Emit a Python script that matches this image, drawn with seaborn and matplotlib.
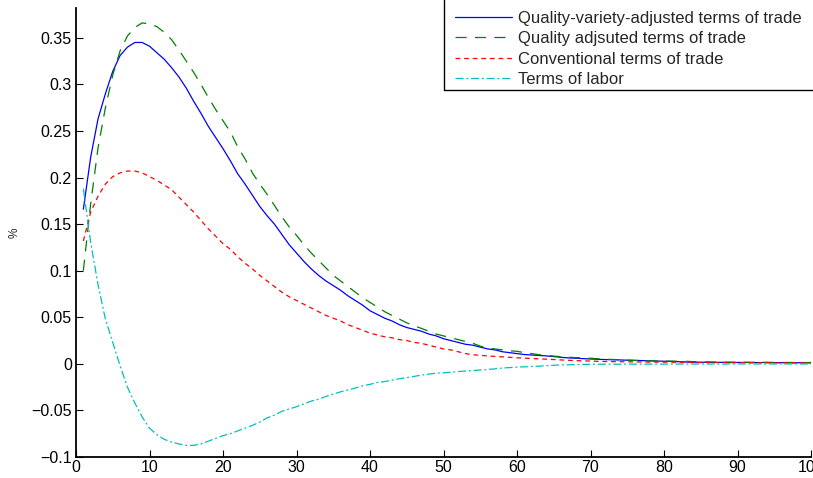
import matplotlib
matplotlib.use("Agg")
import matplotlib.pyplot as plt
from matplotlib.lines import Line2D
import numpy as np
import pandas as pd
import seaborn as sns

# Impulse responses, periods 1..100 (percent deviation)
periods = list(range(1, 101))

quality_variety_tot = [
    0.166, 0.222, 0.263, 0.290, 0.314, 0.331, 0.340, 0.345, 0.345, 0.341,
    0.334, 0.327, 0.318, 0.308, 0.296, 0.282, 0.269, 0.255, 0.243, 0.231,
    0.218, 0.204, 0.193, 0.181, 0.169, 0.159, 0.150, 0.139, 0.128, 0.119,
    0.110, 0.102, 0.095, 0.089, 0.084, 0.079, 0.073, 0.068, 0.063, 0.057,
    0.053, 0.049, 0.046, 0.042, 0.039, 0.037, 0.035, 0.032, 0.030, 0.027,
    0.025, 0.023, 0.021, 0.020, 0.018, 0.016, 0.015, 0.013, 0.012, 0.011,
    0.0100, 0.0095, 0.0090, 0.0085, 0.0078, 0.0070, 0.0064, 0.0060, 0.0056, 0.0052,
    0.0049, 0.0046, 0.0044, 0.0042, 0.0039, 0.0037, 0.0035, 0.0032, 0.0030, 0.0028,
    0.0026, 0.0023, 0.0020, 0.0018, 0.0017, 0.0017, 0.0016, 0.0016, 0.0015, 0.0015,
    0.0015, 0.0014, 0.0014, 0.0014, 0.0013, 0.0013, 0.0013, 0.0012, 0.0012, 0.0012,
]

quality_tot = [
    0.100, 0.172, 0.232, 0.275, 0.310, 0.336, 0.352, 0.361, 0.366, 0.365,
    0.362, 0.356, 0.348, 0.337, 0.325, 0.313, 0.300, 0.286, 0.273, 0.261,
    0.249, 0.233, 0.220, 0.205, 0.193, 0.182, 0.170, 0.158, 0.147, 0.138,
    0.128, 0.119, 0.111, 0.103, 0.095, 0.089, 0.083, 0.077, 0.071, 0.066,
    0.061, 0.056, 0.052, 0.048, 0.044, 0.041, 0.038, 0.035, 0.032, 0.030,
    0.028, 0.026, 0.024, 0.022, 0.019, 0.017, 0.016, 0.015, 0.014, 0.0135,
    0.0120, 0.0110, 0.0098, 0.0090, 0.0083, 0.0077, 0.0071, 0.0067, 0.0063, 0.0060,
    0.0055, 0.0050, 0.0047, 0.0044, 0.0040, 0.0037, 0.0035, 0.0033, 0.0031, 0.0030,
    0.0029, 0.0028, 0.0027, 0.0024, 0.0021, 0.0020, 0.0019, 0.0018, 0.0018, 0.0017,
    0.0017, 0.0016, 0.0016, 0.0016, 0.0015, 0.0015, 0.0015, 0.0014, 0.0014, 0.0014,
]

conventional_tot = [
    0.132, 0.163, 0.180, 0.193, 0.201, 0.205, 0.207, 0.207, 0.205, 0.201,
    0.197, 0.192, 0.187, 0.179, 0.171, 0.163, 0.154, 0.145, 0.137, 0.129,
    0.123, 0.115, 0.108, 0.102, 0.095, 0.089, 0.083, 0.077, 0.072, 0.068,
    0.064, 0.060, 0.056, 0.052, 0.049, 0.046, 0.042, 0.039, 0.036, 0.033,
    0.031, 0.029, 0.028, 0.026, 0.025, 0.023, 0.022, 0.020, 0.018, 0.016,
    0.015, 0.013, 0.011, 0.0097, 0.0092, 0.0085, 0.0080, 0.0075, 0.0070, 0.0065,
    0.0061, 0.0057, 0.0054, 0.0050, 0.0046, 0.0042, 0.0038, 0.0035, 0.0032, 0.0030,
    0.0027, 0.0025, 0.0024, 0.0023, 0.0022, 0.0021, 0.0020, 0.0019, 0.0019, 0.0018,
    0.0018, 0.0017, 0.0016, 0.0016, 0.0015, 0.0015, 0.0014, 0.0014, 0.0013, 0.0013,
    0.0013, 0.0012, 0.0012, 0.0012, 0.0011, 0.0011, 0.0011, 0.0010, 0.0010, 0.0010,
]

terms_of_labor = [
    0.188, 0.130, 0.085, 0.048, 0.023, -0.002, -0.025, -0.042, -0.057, -0.069,
    -0.076, -0.081, -0.084, -0.086, -0.0875, -0.0875, -0.086, -0.083, -0.080, -0.077,
    -0.075, -0.072, -0.069, -0.066, -0.0626, -0.058, -0.055, -0.051, -0.0485, -0.046,
    -0.043, -0.040, -0.038, -0.035, -0.0325, -0.030, -0.028, -0.026, -0.0235, -0.022,
    -0.020, -0.019, -0.0175, -0.016, -0.0148, -0.0135, -0.012, -0.011, -0.010, -0.0097,
    -0.0090, -0.0083, -0.0077, -0.0072, -0.0066, -0.0060, -0.0054, -0.0045, -0.0040, -0.0035,
    -0.0032, -0.0028, -0.0025, -0.0020, -0.0015, -0.0012, -0.0010, -0.0008, -0.0006, -0.0005,
    -0.0004, -0.0004, -0.0004, -0.0004, -0.0003, -0.0003, -0.0003, -0.0003, -0.0003, -0.0003,
    -0.0002, -0.0002, -0.0002, -0.0002, -0.0002, -0.0002, -0.0002, -0.0002, -0.0001, -0.0001,
    -0.0001, -0.0001, -0.0001, -0.0001, -0.0001, -0.0001, -0.0001, -0.0001, -0.0001, -0.0001,
]

series_names = [
    "Quality-variety-adjusted terms of trade",
    "Quality adjsuted terms of trade",
    "Conventional terms of trade",
    "Terms of labor",
]
series_values = [quality_variety_tot, quality_tot, conventional_tot, terms_of_labor]

x_ticks = [0, 10, 20, 30, 40, 50, 60, 70, 80, 90, 100]
y_ticks = [-0.1, -0.05, 0, 0.05, 0.1, 0.15, 0.2, 0.25, 0.3, 0.35]
y_tick_labels = ["\u22120.1", "\u22120.05", "0", "0.05", "0.1", "0.15", "0.2", "0.25", "0.3", "0.35"]

# Line styling
colors = ["#0000ff", "#008000", "#ff0000", "#00bfbf"]
dash_styles = ["-", (0, (8, 6)), (0, (3.4, 2.8)), (0, (5.8, 2.0, 1.4, 2.0))]

sns.set_style("ticks")
plt.rcParams["font.family"] = ["Liberation Sans", "DejaVu Sans"]
plt.rcParams["lines.scale_dashes"] = False

W, H = 813, 478
fig = plt.figure(figsize=(W / 100, H / 100), dpi=100)
ax = fig.add_axes([76 / W, (H - 457) / H, (811 - 76) / W, (457 - 8) / H])

df = pd.DataFrame({
    "period": periods * len(series_names),
    "value": sum(series_values, []),
    "series": [n for n in series_names for _ in periods],
})

for name, color, ls in zip(series_names, colors, dash_styles):
    sub = df[df["series"] == name]
    sns.lineplot(data=sub, x="period", y="value", ax=ax, color=color,
                 linestyle=ls, linewidth=0.9, label=name, errorbar=None)

ax.set_xlim(0, 100)
ax.set_ylim(-0.1, 0.382)
ax.set_xticks(x_ticks)
ax.set_xticklabels([str(t) for t in x_ticks])
ax.set_yticks(y_ticks)
ax.set_yticklabels(y_tick_labels)
ax.set_xlabel("")
ax.set_ylabel("%", fontsize=8.5)
ax.yaxis.set_label_coords(-0.076, 0.5)

for side in ("top", "right"):
    ax.spines[side].set_visible(False)
for side in ("left", "bottom"):
    ax.spines[side].set_linewidth(1.3)
    ax.spines[side].set_color("black")

ax.tick_params(axis="both", direction="in", length=5, width=0.8,
               labelsize=11.5, colors="black")
ax.tick_params(axis="x", pad=2)
ax.tick_params(axis="y", pad=3)

handles, labels = ax.get_legend_handles_labels()
leg = ax.legend(handles, labels, loc="upper left",
                bbox_to_anchor=(455 / W, (H - 11) / H),
                bbox_transform=fig.transFigure, frameon=False,
                fontsize=12, handlelength=3.4, handletextpad=0.36,
                labelspacing=0.32, borderpad=0, borderaxespad=0)

# Legend box edges (left and bottom)
fig.add_artist(Line2D([444 / W, 444 / W], [1.0, (H - 90) / H],
                      transform=fig.transFigure, color="black", lw=1.0))
fig.add_artist(Line2D([444 / W, 1.0], [(H - 90) / H, (H - 90) / H],
                      transform=fig.transFigure, color="black", lw=1.0))

fig.savefig("out.png", dpi=100)
